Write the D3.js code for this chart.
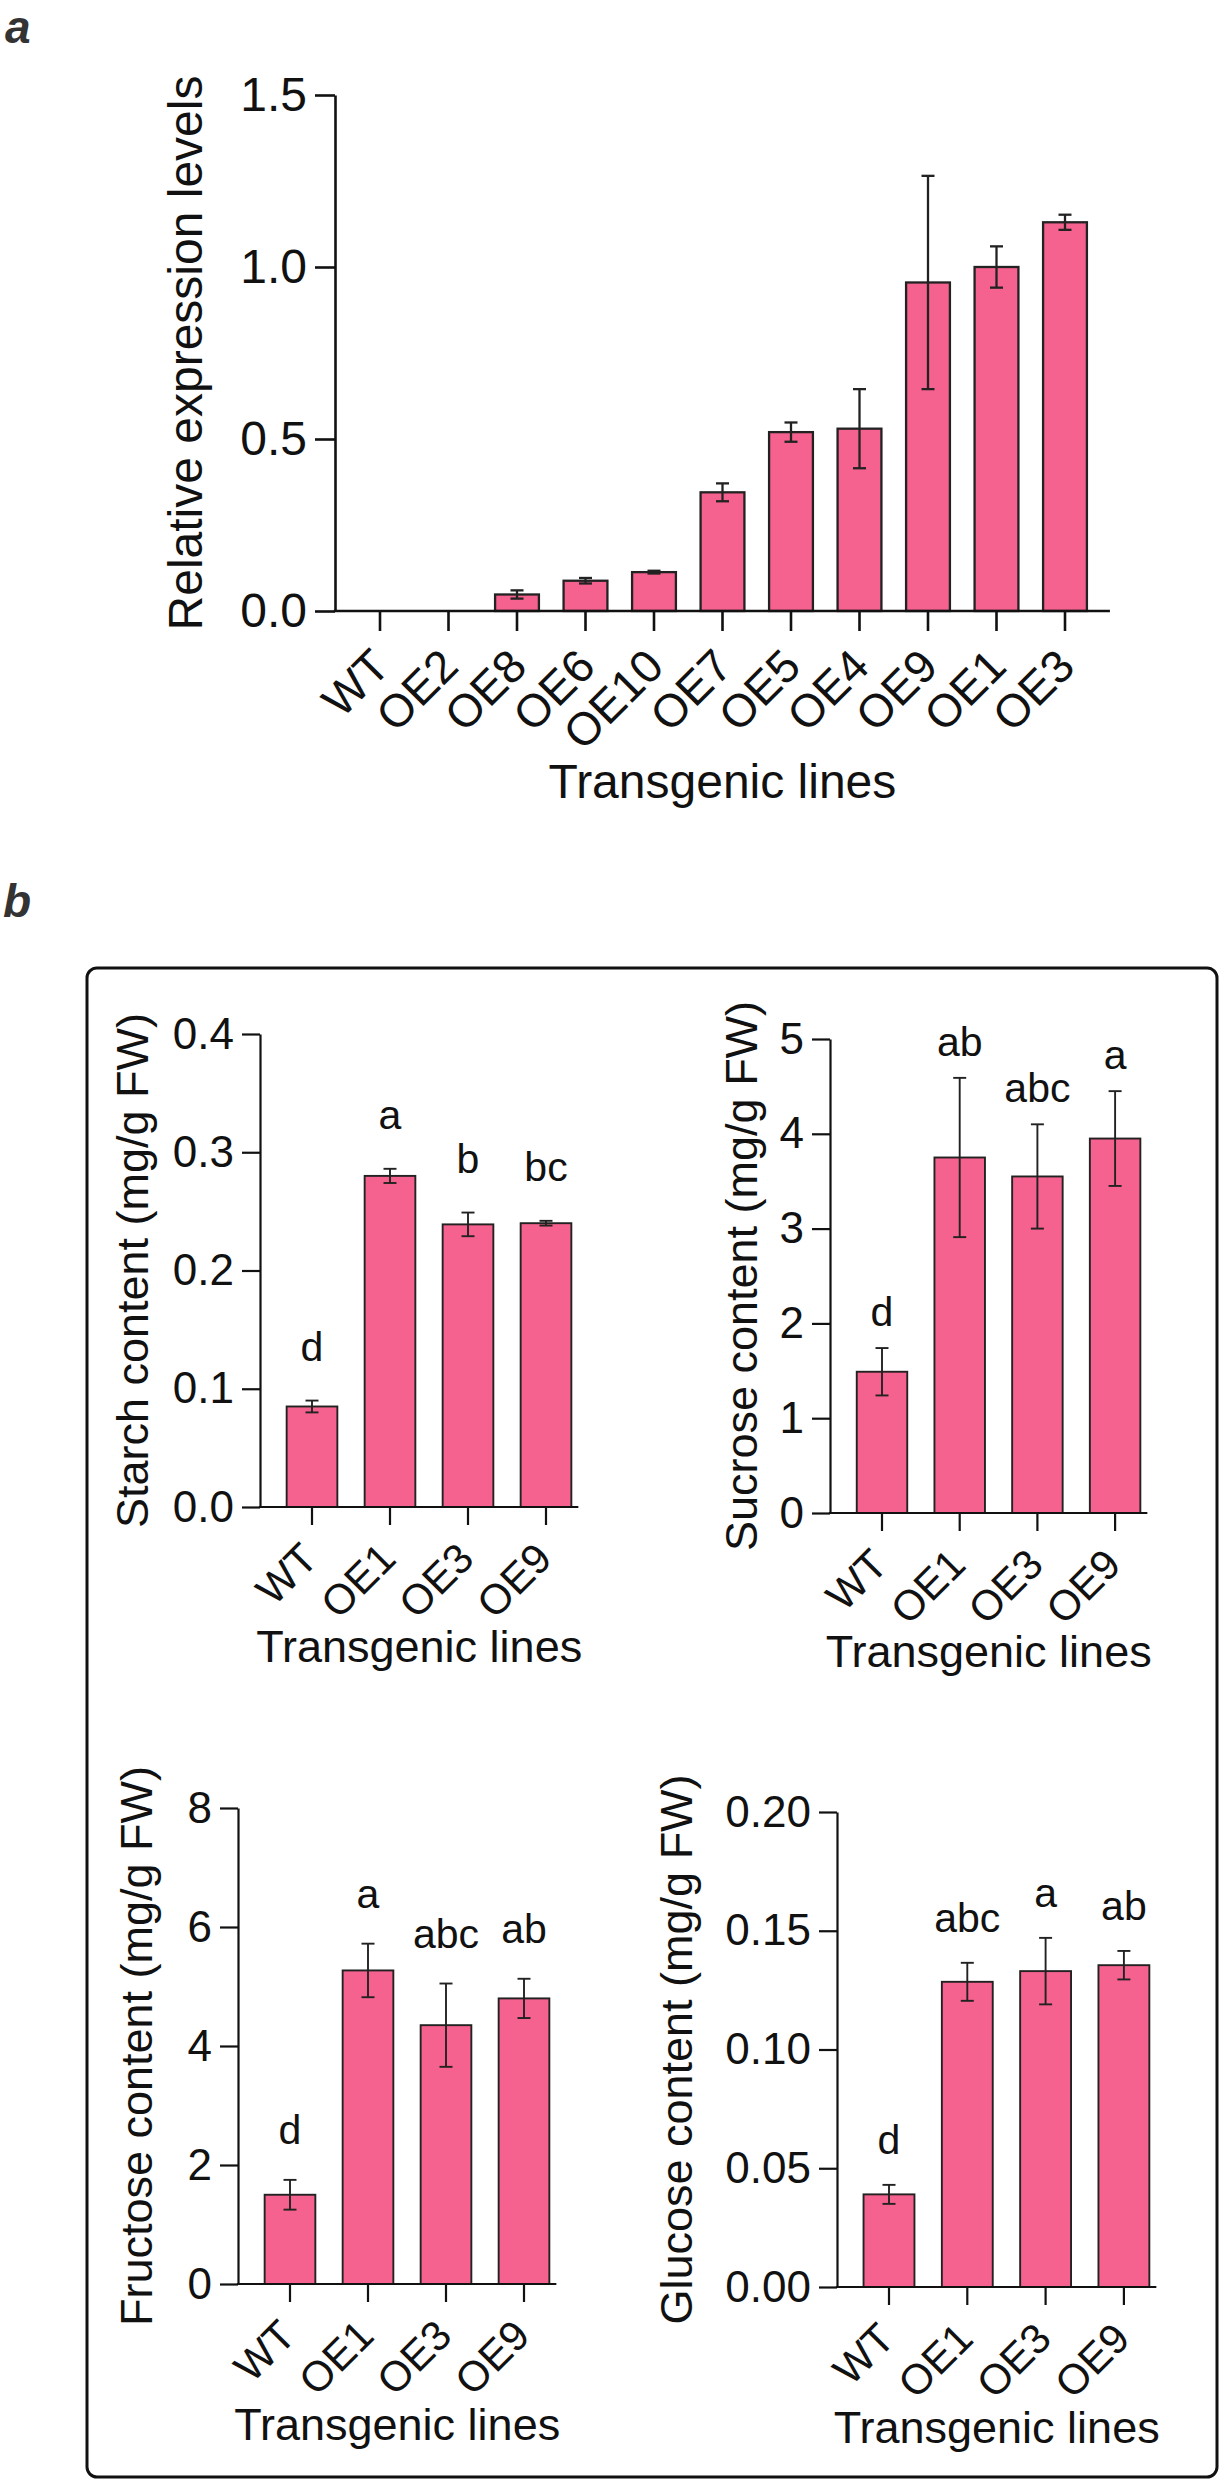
<!DOCTYPE html>
<html lang="en">
  <head>
    <meta charset="UTF-8" />
    <title>Transgenic lines</title>
    <script src="https://cdnjs.cloudflare.com/ajax/libs/d3/7.8.5/d3.min.js"></script>
    <style>
      body {
        margin: 0;
        background: #fff;
      }
      text {
        font-family: "Liberation Sans", Arial, sans-serif;
        fill: #111;
      }
      .tag {
        font-weight: bold;
        font-style: italic;
        fill: #333;
      }
    </style>
  </head>
  <body>
    <div id="chart"></div>
    <script>
      // Panel a - relative expression
      const linesA = ["WT", "OE2", "OE8", "OE6", "OE10", "OE7", "OE5", "OE4", "OE9", "OE1", "OE3"];
      const exprMean = [0, 0, 0.048, 0.088, 0.113, 0.345, 0.52, 0.53, 0.955, 1.0, 1.13];
      const exprErr = [0, 0, 0.012, 0.008, 0.004, 0.026, 0.028, 0.115, 0.31, 0.06, 0.022];
      const exprTicks = [0, 0.5, 1.0, 1.5];

      // Panel b - sugar contents
      const linesB = ["WT", "OE1", "OE3", "OE9"];

      const starchMean = [0.085, 0.28, 0.239, 0.24];
      const starchErr = [0.005, 0.006, 0.01, 0.002];
      const starchLetters = ["d", "a", "b", "bc"];
      const starchTicks = [0, 0.1, 0.2, 0.3, 0.4];

      const sucroseMean = [1.49, 3.75, 3.55, 3.95];
      const sucroseErr = [0.25, 0.84, 0.55, 0.5];
      const sucroseLetters = ["d", "ab", "abc", "a"];
      const sucroseTicks = [0, 1, 2, 3, 4, 5];

      const fructoseMean = [1.5, 5.27, 4.35, 4.8];
      const fructoseErr = [0.25, 0.45, 0.7, 0.33];
      const fructoseLetters = ["d", "a", "abc", "ab"];
      const fructoseTicks = [0, 2, 4, 6, 8];

      const glucoseMean = [0.039, 0.1285, 0.133, 0.1355];
      const glucoseErr = [0.004, 0.008, 0.014, 0.006];
      const glucoseLetters = ["d", "abc", "a", "ab"];
      const glucoseTicks = [0, 0.05, 0.1, 0.15, 0.2];

      const barColor = "#f6628f";
      const ink = "#111";

      const svg = d3
        .select("#chart")
        .append("svg")
        .attr("width", 1220)
        .attr("height", 2481);

      svg.append("rect").attr("width", 1220).attr("height", 2481).attr("fill", "#fff");

      function drawPanel(p) {
        const g = svg.append("g");
        const n = p.cats.length;
        const start = p.axisX + p.firstOffset - p.step / 2;

        const y = d3.scaleLinear().domain([0, p.max]).range([p.y0, p.yTop]);
        const x = d3
          .scaleBand()
          .domain(p.cats)
          .range([start, start + p.step * n])
          .paddingInner(p.pad)
          .paddingOuter(p.pad / 2);

        const rows = p.cats.map((c, i) => ({
          cat: c,
          mean: p.mean[i],
          err: p.err[i],
          letter: p.letters ? p.letters[i] : null,
        }));

        // bars
        g.selectAll(".bar")
          .data(rows.filter((d) => d.mean > 0))
          .enter()
          .append("rect")
          .attr("class", "bar")
          .attr("x", (d) => x(d.cat))
          .attr("y", (d) => y(d.mean))
          .attr("width", x.bandwidth())
          .attr("height", (d) => p.y0 - y(d.mean))
          .attr("fill", barColor)
          .attr("stroke", "#222")
          .attr("stroke-width", p.sw - 0.3);

        // error bars
        const eb = g
          .selectAll(".err")
          .data(rows.filter((d) => d.err > 0))
          .enter()
          .append("g")
          .attr("class", "err")
          .attr("stroke", "#222")
          .attr("stroke-width", p.sw - 0.3);
        const cx = (d) => x(d.cat) + x.bandwidth() / 2;
        eb.append("line")
          .attr("x1", cx)
          .attr("x2", cx)
          .attr("y1", (d) => y(d.mean - d.err))
          .attr("y2", (d) => y(d.mean + d.err));
        eb.append("line")
          .attr("x1", (d) => cx(d) - p.cap / 2)
          .attr("x2", (d) => cx(d) + p.cap / 2)
          .attr("y1", (d) => y(d.mean + d.err))
          .attr("y2", (d) => y(d.mean + d.err));
        eb.append("line")
          .attr("x1", (d) => cx(d) - p.cap / 2)
          .attr("x2", (d) => cx(d) + p.cap / 2)
          .attr("y1", (d) => y(d.mean - d.err))
          .attr("y2", (d) => y(d.mean - d.err));

        // significance letters
        if (p.letters) {
          g.selectAll(".letter")
            .data(rows)
            .enter()
            .append("text")
            .attr("class", "letter")
            .attr("x", cx)
            .attr("y", (d) => y(d.mean + d.err) - p.letterGap)
            .attr("text-anchor", "middle")
            .style("font-size", p.fsLetter + "px")
            .text((d) => d.letter);
        }

        // y axis
        const yAxis = d3
          .axisLeft(y)
          .tickValues(p.ticks)
          .tickFormat(d3.format(p.fmt))
          .tickSize(p.tick)
          .tickSizeOuter(0)
          .tickPadding(8);
        const gy = g
          .append("g")
          .attr("transform", `translate(${p.axisX},0)`)
          .call(yAxis)
          .attr("font-family", null)
          .attr("font-size", null);
        gy.selectAll("line, path").attr("stroke", ink).attr("stroke-width", p.sw);
        gy.selectAll("text").style("font-size", p.fsTick + "px");

        // x axis
        const lastCenter = x(p.cats[n - 1]) + x.bandwidth() / 2;
        const axisEnd = lastCenter + x.bandwidth() / 2 + p.endGap;
        const xAxis = d3.axisBottom(x).tickSize(p.tick).tickSizeOuter(0);
        const gx = g
          .append("g")
          .attr("transform", `translate(0,${p.y0})`)
          .call(xAxis)
          .attr("font-family", null)
          .attr("font-size", null);
        gx.select(".domain").remove();
        gx.selectAll("line").attr("stroke", ink).attr("stroke-width", p.sw);
        gx.selectAll("text")
          .attr("x", 0)
          .attr("y", 0)
          .attr("dy", 0)
          .attr("text-anchor", "end")
          .attr("transform", `translate(${p.labDx},${p.tick + p.labDy}) rotate(-45)`)
          .style("font-size", p.fsCat + "px");
        g.append("line")
          .attr("x1", p.axisX - p.sw / 2)
          .attr("x2", axisEnd)
          .attr("y1", p.y0)
          .attr("y2", p.y0)
          .attr("stroke", ink)
          .attr("stroke-width", p.sw);

        // titles
        g.append("text")
          .attr("transform", `translate(${p.yTitleX},${(p.y0 + p.yTop) / 2}) rotate(-90)`)
          .attr("text-anchor", "middle")
          .style("font-size", p.fsTitle + "px")
          .text(p.yTitle);
        g.append("text")
          .attr("x", (p.axisX + axisEnd) / 2)
          .attr("y", p.xTitleY)
          .attr("text-anchor", "middle")
          .style("font-size", p.fsTitle + "px")
          .text("Transgenic lines");
      }

      // Panel a
      drawPanel({
        cats: linesA, mean: exprMean, err: exprErr, ticks: exprTicks, max: 1.5, fmt: ".1f",
        axisX: 335, y0: 611, yTop: 95, firstOffset: 45, step: 68.5, pad: 0.36, endGap: 23,
        tick: 20, sw: 2.6, cap: 13, labDx: 12, labDy: 38,
        fsTick: 48, fsCat: 46, fsTitle: 48,
        yTitle: "Relative expression levels", yTitleX: 202, xTitleY: 798,
      });

      const common = {
        cats: linesB, firstOffset: 52, step: 78, pad: 0.35, endGap: 7,
        tick: 18, sw: 2.2, cap: 13, labDx: 8, labDy: 36,
        fsTick: 44, fsCat: 42, fsTitle: 45, fsLetter: 41,
      };

      drawPanel(Object.assign({}, common, {
        mean: starchMean, err: starchErr, letters: starchLetters, ticks: starchTicks, max: 0.4, fmt: ".1f",
        axisX: 260, y0: 1507, yTop: 1034, letterGap: 40,
        yTitle: "Starch content (mg/g FW)", yTitleX: 148, xTitleY: 1662,
      }));

      drawPanel(Object.assign({}, common, {
        mean: sucroseMean, err: sucroseErr, letters: sucroseLetters, ticks: sucroseTicks, max: 5, fmt: "d",
        axisX: 830, y0: 1513, yTop: 1039, step: 77.7, letterGap: 22,
        yTitle: "Sucrose content (mg/g FW)", yTitleX: 757, xTitleY: 1667,
      }));

      drawPanel(Object.assign({}, common, {
        mean: fructoseMean, err: fructoseErr, letters: fructoseLetters, ticks: fructoseTicks, max: 8, fmt: "d",
        axisX: 238, y0: 2284, yTop: 1808, letterGap: 36,
        yTitle: "Fructose content (mg/g FW)", yTitleX: 152, xTitleY: 2440,
      }));

      drawPanel(Object.assign({}, common, {
        mean: glucoseMean, err: glucoseErr, letters: glucoseLetters, ticks: glucoseTicks, max: 0.2, fmt: ".2f",
        axisX: 837, y0: 2287, yTop: 1812, step: 78.3, letterGap: 31,
        yTitle: "Glucose content (mg/g FW)", yTitleX: 692, xTitleY: 2443,
      }));

      // frame around panel b
      svg.append("rect")
        .attr("x", 87)
        .attr("y", 968)
        .attr("width", 1130)
        .attr("height", 1509)
        .attr("rx", 10)
        .attr("fill", "none")
        .attr("stroke", ink)
        .attr("stroke-width", 3);

      // panel tags
      svg.append("text").attr("class", "tag").attr("x", 5).attr("y", 43).style("font-size", "46px").text("a");
      svg.append("text").attr("class", "tag").attr("x", 3).attr("y", 917).style("font-size", "46px").text("b");
    </script>
  </body>
</html>
